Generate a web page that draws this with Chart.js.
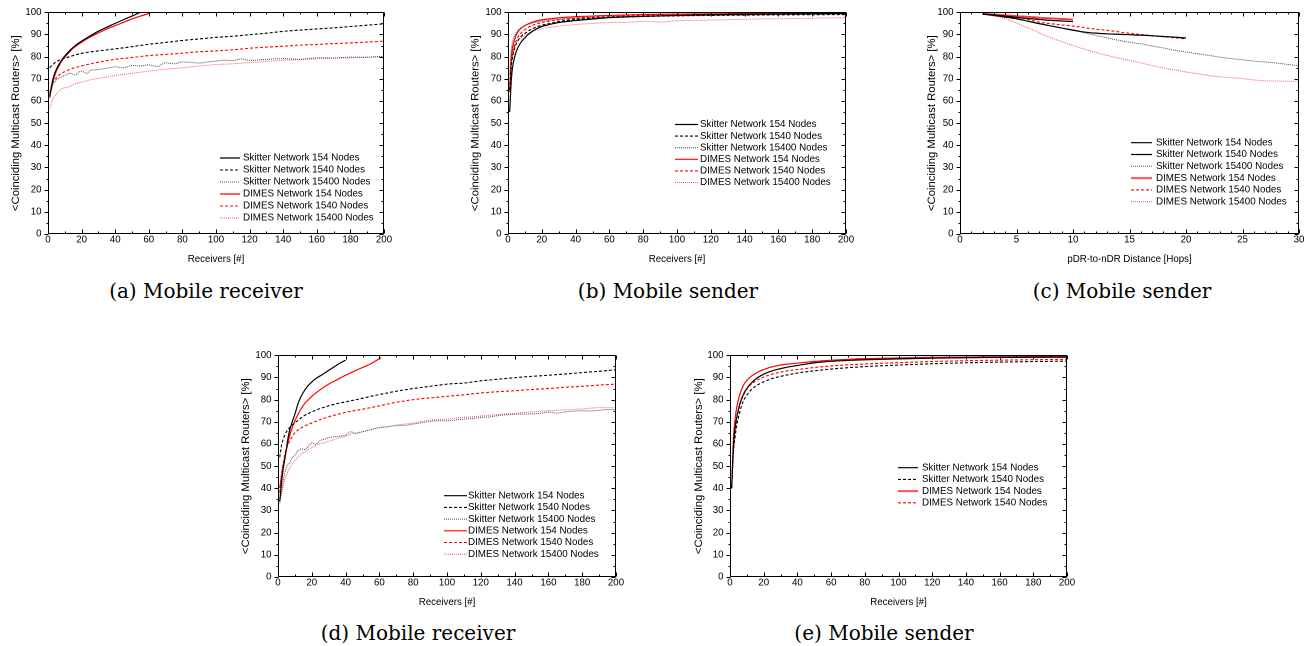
<!DOCTYPE html>
<html><head><meta charset="utf-8">
<script src="https://cdn.jsdelivr.net/npm/chart.js@4.4.0/dist/chart.umd.min.js"></script>
<style>
html,body{margin:0;padding:0;background:#fff;width:1314px;height:646px;overflow:hidden;position:relative}
canvas{position:absolute}
.cap{position:absolute;font-family:'DejaVu Serif',serif;font-size:20px;color:#000;white-space:nowrap;transform:translateX(-50%);line-height:20px}
</style></head><body>
<canvas id="ca" width="398" height="270" style="left:0px;top:0px"></canvas>
<canvas id="cb" width="400" height="270" style="left:460px;top:0px"></canvas>
<canvas id="cc" width="401" height="270" style="left:912px;top:0px"></canvas>
<canvas id="cd" width="400" height="270" style="left:230px;top:343px"></canvas>
<canvas id="ce" width="399" height="270" style="left:682px;top:343px"></canvas>
<div class="cap" style="left:206px;top:281px">(a) Mobile receiver</div>
<div class="cap" style="left:668px;top:281px">(b) Mobile sender</div>
<div class="cap" style="left:1122px;top:281px">(c) Mobile sender</div>
<div class="cap" style="left:418px;top:623px">(d) Mobile receiver</div>
<div class="cap" style="left:884px;top:623px">(e) Mobile sender</div>
<script>
// ---------- labels ----------
const seriesLabels = ['Skitter Network 154 Nodes','Skitter Network 1540 Nodes','Skitter Network 15400 Nodes',
                      'DIMES Network 154 Nodes','DIMES Network 1540 Nodes','DIMES Network 15400 Nodes'];
const yTitle = '<Coinciding Multicast Routers> [%]';
const xTitleRecv = 'Receivers [#]';
const xTitleHops = 'pDR-to-nDR Distance [Hops]';
const captions = ['(a) Mobile receiver','(b) Mobile sender','(c) Mobile sender','(d) Mobile receiver','(e) Mobile sender'];

// ---------- (a) Mobile receiver ----------
const a_sk154_x = [1,2,3,4,5,6,8,10,12,15,18,20,25,30,35,40,45,50,55];
const a_sk154_y = [62,66.5,70,72.5,74.3,75.8,78.3,80.3,82,84.2,86,87,89.3,91.5,93.3,95,96.7,98.3,100];
const a_sk1540_x = [1,3,5,10,15,20,30,40,50,60,70,80,90,100,110,120,130,140,150,160,170,180,190,200];
const a_sk1540_y = [75,76.5,77.8,79.3,80.5,81.5,82.6,83.5,84.5,85.6,86.4,87.3,88,88.7,89.2,89.9,90.6,91.4,92,92.5,93,93.6,94.2,94.8];
const a_sk15400_x = [1,2,3,5,7,10,13,16,20,23,26,30,35,40,45,50,55,60,65,70,75,80,85,90,95,100,105,110,115,120,130,140,150,160,170,180,190,200];
const a_sk15400_y = [62,65,67.5,69.5,70.5,71.5,72.5,71.8,73.5,72.5,74,74.2,74.8,75.4,75,76,75.8,76.3,75.6,77.2,76.8,77.6,77.4,77.1,77.6,78,78.4,78.2,79,78.3,78.8,79.1,78.8,79.5,79.4,79.8,79.7,80.2];
const a_di154_x = [1,2,3,4,5,6,8,10,12,15,18,20,25,30,35,40,45,50,55,60,61];
const a_di154_y = [61.5,65.5,69,71.5,73.5,75,77.8,79.8,81.5,83.8,85.5,86.5,88.8,90.7,92.5,94,95.5,97,98.3,99.5,100];
const a_di1540_x = [1,2,3,5,8,10,15,20,30,40,50,60,70,80,90,100,110,120,130,140,150,160,170,180,190,200];
const a_di1540_y = [63.5,66.5,68.5,70.5,72.5,73.2,74.8,75.8,77.5,78.8,79.6,80.5,81,81.6,82.2,82.6,83.1,83.8,84.3,84.7,85.2,85.5,85.9,86.2,86.6,87];
const a_di15400_x = [1,2,3,5,7,10,13,16,20,25,30,35,40,50,60,70,80,90,100,110,120,130,140,150,160,170,180,190,200];
const a_di15400_y = [56.5,59,61,63,64.8,66,66.5,67.8,68.5,69.5,70.2,70.8,71.5,72.5,73.5,74.3,75,75.8,76.4,76.8,77.3,77.8,78.3,78.7,79,79.3,79.5,79.8,80.2];

// ---------- (b) Mobile sender ----------
const b_sk154_x = [1,2,3,4,5,6,8,10,12,14,16,18,20,25,30,40,50,60,80,100,120,150,200];
const b_sk154_y = [55,70,76.5,80,82.5,84.3,86.8,88.5,90,91.2,92.2,93,93.6,94.6,95.4,96.3,97,97.6,98.2,98.6,98.9,99.2,99.5];
const b_sk1540_x = [1,2,3,4,5,7,10,15,20,25,30,40,50,60,80,100,150,200];
const b_sk1540_y = [65,76,81,84,86,88.5,90.5,92.8,94.2,95,95.8,96.8,97.3,97.7,98.1,98.4,98.8,99];
const b_sk15400_x = [1,2,3,4,5,7,10,15,20,30,40,60,100,150,200];
const b_sk15400_y = [72,83,87.5,89.5,91,92.6,94,95.3,96,96.8,97.3,97.9,98.5,98.9,99.2];
const b_di154_x = [1,2,3,4,5,7,10,15,20,30,40,60,80,100,150,200];
const b_di154_y = [65,80,85,88,90,92.3,94,95.7,96.6,97.5,98,98.6,99,99.2,99.5,99.8];
const b_di1540_x = [1,2,3,4,5,7,10,15,20,30,40,60,80,100,150,200];
const b_di1540_y = [64,77,82.5,85.5,87.5,90,92.2,94.3,95.4,96.6,97.4,98.1,98.6,98.9,99.2,99.5];
const b_di15400_x = [1,2,3,4,5,7,10,15,20,30,40,50,60,70,80,90,100,120,140,160,180,200];
const b_di15400_y = [68,78,82,84.5,86,88.2,89.8,91.5,92.6,93.8,94.5,95,95.4,95.5,95.9,95.6,96.2,96.5,96.9,97.1,97.3,97.6];

// ---------- (c) Mobile sender, distance ----------
const c_sk154_x = [2,3,4,5,6,7,8,9,10];
const c_sk154_y = [99.2,98.8,98.3,97.7,97.2,96.8,96.4,96.1,95.8];
const c_sk1540_x = [2,3,4,5,6,7,8,9,10,11,12,13,14,15,16,17,18,19,20];
const c_sk1540_y = [99.2,98.6,97.9,97.1,96.0,94.9,93.9,92.9,91.9,91.1,90.6,90.3,90.1,89.9,89.7,89.4,89.1,88.8,88.4];
const c_sk15400_x = [2,3,4,5,6,7,8,9,10,11,12,13,14,15,16,17,18,19,20,21,22,23,24,25,26,27,28,29,30];
const c_sk15400_y = [99.2,98.5,97.8,97.1,96.0,94.9,93.9,93.0,92.2,90.8,89.6,88.5,87.4,86.5,85.8,84.8,83.9,82.9,82.1,81.3,80.6,79.8,79.1,78.6,78.0,77.6,77.1,76.5,75.8];
const c_di154_x = [2,3,4,5,6,7,8,9,10];
const c_di154_y = [99.3,99.0,98.7,98.3,98.0,97.6,97.3,97.0,96.7];
const c_di1540_x = [2,3,4,5,6,7,8,9,10,11,12,13,14,15,16,17,18,19,20];
const c_di1540_y = [99.3,98.8,98.4,97.9,96.8,95.6,94.9,94.3,93.8,93.1,92.4,91.9,91.2,90.5,90.0,89.5,89.0,88.5,88.0];
const c_di15400_x = [2,3,4,5,6,7,8,9,10,11,12,13,14,15,16,17,18,19,20,21,22,23,24,25,26,27,28,29,30];
const c_di15400_y = [99.3,98.3,97.1,95.2,93.0,90.8,88.6,86.8,85.0,83.4,81.9,80.6,79.4,78.3,77.2,76.0,74.9,74.0,73.1,72.3,71.5,70.9,70.5,70.1,69.5,69.1,69.0,68.9,68.9];

// ---------- (d) Mobile receiver ----------
const d_sk154_x = [1,2,3,4,5,6,7,8,10,12,14,16,18,20,22,24,26,28,30,32,34,36,38,40];
const d_sk154_y = [34,42,48.5,53,58,63,66.5,69,73.5,78.5,82,84.5,86.5,88,89.3,90.3,91.2,92.2,93.2,94.2,95.2,96.2,97,97.8];
const d_sk1540_x = [1,2,3,4,5,7,10,15,20,25,30,35,40,45,50,55,60,70,80,90,100,110,120,130,140,150,160,170,180,190,200];
const d_sk1540_y = [54,59,62,64,65.5,67.5,69.5,72.5,74.5,76,77.2,78.2,79,79.8,80.6,81.5,82.3,83.8,85,86,87,87.5,88.5,89.2,89.9,90.5,91,91.6,92.2,92.8,93.5];
const d_sk15400_x = [1,2,3,4,5,6,7,8,10,12,14,16,18,20,22,25,28,30,35,40,43,46,50,55,60,65,70,75,80,85,90,95,100,105,110,115,120,125,130,135,140,145,150,155,160,165,170,175,180,185,190,195,200];
const d_sk15400_y = [35,38,43,47,49.5,51,51.5,53.5,55,57,57.8,57.5,59,60.5,59.8,61.5,62.3,62.8,63.4,64,65.5,64.8,65.5,66.5,67.3,67.8,68.3,68.4,69,69.6,70.2,70.5,70.5,70.8,71.2,71.5,72,72.2,72.8,73.2,73.4,73.5,73.6,73.8,74.4,73.9,74.5,74.8,75,74.9,75.2,75.5,75.5];
const d_di154_x = [1,2,3,4,5,6,7,8,10,12,15,18,20,25,30,35,40,45,50,55,60,61];
const d_di154_y = [40,45,50,54,57.5,61,64,66.5,70.5,73.5,77.5,80,81.5,84.5,87,89,91,92.8,94.5,96.2,98.5,99];
const d_di1540_x = [1,2,3,4,5,7,10,15,20,25,30,35,40,50,60,70,80,90,100,110,120,130,140,150,160,170,180,190,200];
const d_di1540_y = [38,46,51,55,58,61.5,65,67.8,69.5,71,72.3,73.3,74.3,75.7,77.2,78.8,80,80.8,81.5,82.2,83,83.6,84,84.6,85,85.6,86,86.6,87];
const d_di15400_x = [1,2,3,4,5,6,8,10,12,15,18,20,25,30,35,40,45,50,55,60,65,70,75,80,85,90,95,100,110,120,130,140,150,160,170,180,190,200];
const d_di15400_y = [33,37,41,44,46,48,50.5,52.5,54.3,56,57.5,58.5,60,61.2,62.5,63.5,64.8,65.5,66.5,67.5,67.8,68.5,69,69.5,70.2,70.8,71,71.3,72,72.6,73.3,73.8,74.5,75,75.4,75.8,76.4,76.3];

// ---------- (e) Mobile sender ----------
const e_sk154_x = [1,2,3,4,5,6,8,10,12,14,16,18,20,25,30,35,40,50,60,70,80,100,120,150,200];
const e_sk154_y = [40,58,67,72,75.5,78.5,82.5,85,87,88.5,89.7,90.7,91.5,93,94,94.8,95.4,96.6,97.3,97.7,98,98.4,98.7,99,99.2];
const e_sk1540_x = [1,2,3,4,5,6,8,10,12,14,16,18,20,25,30,35,40,50,60,70,80,100,120,150,200];
const e_sk1540_y = [40,56,63,68.5,72,75,79.5,82,84,85.4,86.5,87.3,88,89.5,90.5,91.3,92,93,93.8,94.4,94.9,95.6,96.2,96.8,97.4];
const e_di154_x = [1,2,3,4,5,6,8,10,12,14,16,18,20,25,30,35,40,50,60,70,80,100,120,150,200];
const e_di154_y = [40,62,71,76.5,80,82.8,86.5,88.7,90.2,91.3,92.2,93,93.6,94.8,95.6,96.1,96.5,97.2,97.8,98.2,98.5,98.8,99.1,99.3,99.5];
const e_di1540_x = [1,2,3,4,5,6,8,10,12,14,16,18,20,25,30,35,40,50,60,70,80,100,120,150,200];
const e_di1540_y = [40,58,66,71.5,75,78,82,84.8,86.5,87.8,88.8,89.5,90.2,91.5,92.4,93.1,93.6,94.5,95.2,95.7,96.1,96.7,97.2,97.7,98.2];

// ---------- styles ----------
const STY = {
  sk154:   {c:'#000000', w:1.2, d:[]},
  sk1540:  {c:'#000000', w:1.1, d:[3,2]},
  sk15400: {c:'#4a4a4a', w:1.0, d:[1,1]},
  di154:   {c:'#ff0000', w:1.2, d:[]},
  di1540:  {c:'#ff0000', w:1.1, d:[3,2]},
  di15400: {c:'#ff5a5a', w:1.0, d:[1,1]}
};
const FONT = '"Liberation Sans", Arial, sans-serif';
Chart.defaults.font.family = FONT;
Chart.defaults.color = '#000';

function pts(xs, ys){ return xs.map((v,i)=>({x:v, y:ys[i]})); }
function ds(label, key, xs, ys, extra){
  const s = STY[key];
  return Object.assign({label, data: pts(xs,ys), borderColor:s.c, borderWidth:s.w, borderDash:s.d,
    pointRadius:0, fill:false, cubicInterpolationMode:'monotone', legendColor:s.c, legendWidth:s.w}, extra||{});
}

const framePlugin = {
  id:'framePlugin',
  afterDraw(chart, args, o){
    const {ctx, chartArea:a, scales} = chart;
    const xs = scales.x, ys = scales.y;
    ctx.save();
    ctx.strokeStyle = '#000'; ctx.lineWidth = 1; ctx.setLineDash([]);
    const L = Math.round(a.left)+0.5, R = Math.round(a.right)-0.5, T = Math.round(a.top)+0.5, B = Math.round(a.bottom)-0.5;
    ctx.strokeRect(L, T, R-L, B-T);
    ctx.beginPath();
    const isMaj = (v, m) => Math.abs(v/m - Math.round(v/m)) < 1e-6;
    for (let v = xs.min; v <= xs.max + 1e-9; v += o.xMinor){
      const px = Math.round(xs.getPixelForValue(v)) + 0.5;
      const len = isMaj(v, o.xMajor) ? 4 : 2;
      ctx.moveTo(px, B); ctx.lineTo(px, B - len);
      ctx.moveTo(px, T); ctx.lineTo(px, T + len);
    }
    for (let v = ys.min; v <= ys.max + 1e-9; v += o.yMinor){
      const py = Math.round(ys.getPixelForValue(v)) + 0.5;
      const len = isMaj(v, o.yMajor) ? 4 : 2;
      ctx.moveTo(L, py); ctx.lineTo(L - len, py);
      ctx.moveTo(R, py); ctx.lineTo(R - len, py);
    }
    ctx.stroke();
    ctx.restore();
  }
};

const legendPlugin = {
  id:'insideLegend',
  afterDraw(chart, args, o){
    const ctx = chart.ctx;
    chart.data.datasets.forEach((d, i) => {
      const y = o.y + i*o.dy;
      ctx.save();
      ctx.strokeStyle = d.legendColor; ctx.lineWidth = d.legendWidth;
      ctx.setLineDash(d.borderDash || []);
      ctx.beginPath(); ctx.moveTo(o.x0, y); ctx.lineTo(o.x1, y); ctx.stroke();
      ctx.setLineDash([]);
      ctx.fillStyle = '#000'; ctx.font = '9.8px ' + FONT;
      ctx.textBaseline = 'middle'; ctx.textAlign = 'left';
      ctx.fillText(d.label, o.tx, y);
      ctx.restore();
    });
  }
};

function makeChart(id, datasets, xcfg, titlePad, legend){
  return new Chart(document.getElementById(id), {
    type:'line',
    data:{datasets},
    options:{
      responsive:false, animation:false, devicePixelRatio:2,
      layout:{padding:{left:0, top:12, right:14, bottom:0}},
      plugins:{legend:{display:false}, tooltip:{enabled:false},
        framePlugin:{xMinor:xcfg.minor, xMajor:xcfg.step, yMinor:5, yMajor:10},
        insideLegend:legend},
      scales:{
        x:{type:'linear', min:xcfg.min, max:xcfg.max,
           ticks:{stepSize:xcfg.step, padding:0, font:{size:9.7}, maxRotation:0, autoSkip:false},
           grid:{display:false, drawTicks:false}, border:{display:false},
           title:{display:true, text:xcfg.title, font:{size:9.7}, padding:{top:0,bottom:5}},
           afterFit(s){ s.height = 36; }},
        y:{type:'linear', min:0, max:100,
           ticks:{stepSize:10, padding:6.5, font:{size:9.7}, autoSkip:false},
           grid:{display:false, drawTicks:false}, border:{display:false},
           title:{display:true, text:yTitle, font:{size:11.3}, padding:{top:titlePad,bottom:0}},
           afterFit(s){ s.width = 48; }}
      }
    },
    plugins:[framePlugin, legendPlugin]
  });
}

const recvAxis = {min:0, max:200, step:20, minor:10, title:xTitleRecv};
const hopAxis = {min:0, max:30, step:5, minor:1, title:xTitleHops};

makeChart('ca', [
  ds(seriesLabels[0],'sk154', a_sk154_x, a_sk154_y),
  ds(seriesLabels[1],'sk1540', a_sk1540_x, a_sk1540_y),
  ds(seriesLabels[2],'sk15400', a_sk15400_x, a_sk15400_y),
  ds(seriesLabels[3],'di154', a_di154_x, a_di154_y),
  ds(seriesLabels[4],'di1540', a_di1540_x, a_di1540_y),
  ds(seriesLabels[5],'di15400', a_di15400_x, a_di15400_y)
], recvAxis, 9, {x0:220, x1:240, tx:243, y:158, dy:12});

makeChart('cb', [
  ds(seriesLabels[0],'sk154', b_sk154_x, b_sk154_y),
  ds(seriesLabels[1],'sk1540', b_sk1540_x, b_sk1540_y),
  ds(seriesLabels[2],'sk15400', b_sk15400_x, b_sk15400_y),
  ds(seriesLabels[3],'di154', b_di154_x, b_di154_y),
  ds(seriesLabels[4],'di1540', b_di1540_x, b_di1540_y),
  ds(seriesLabels[5],'di15400', b_di15400_x, b_di15400_y)
], recvAxis, 8.5, {x0:215, x1:238, tx:240, y:124.5, dy:11.6});

makeChart('cc', [
  ds(seriesLabels[0],'sk154', c_sk154_x, c_sk154_y),
  ds(seriesLabels[1],'sk154', c_sk1540_x, c_sk1540_y),
  ds(seriesLabels[2],'sk15400', c_sk15400_x, c_sk15400_y),
  ds(seriesLabels[3],'di154', c_di154_x, c_di154_y, {borderColor:'#ff3030', borderWidth:1.8, legendColor:'#ff6060', legendWidth:2.2}),
  ds(seriesLabels[4],'di1540', c_di1540_x, c_di1540_y),
  ds(seriesLabels[5],'di15400', c_di15400_x, c_di15400_y)
], hopAxis, 13, {x0:219, x1:240, tx:244, y:142.7, dy:11.8});

makeChart('cd', [
  ds(seriesLabels[0],'sk154', d_sk154_x, d_sk154_y),
  ds(seriesLabels[1],'sk1540', d_sk1540_x, d_sk1540_y),
  ds(seriesLabels[2],'sk15400', d_sk15400_x, d_sk15400_y),
  ds(seriesLabels[3],'di154', d_di154_x, d_di154_y),
  ds(seriesLabels[4],'di1540', d_di1540_x, d_di1540_y),
  ds(seriesLabels[5],'di15400', d_di15400_x, d_di15400_y)
], recvAxis, 9, {x0:214, x1:237, tx:238, y:152.7, dy:11.7});

makeChart('ce', [
  ds(seriesLabels[0],'sk154', e_sk154_x, e_sk154_y),
  ds(seriesLabels[1],'sk1540', e_sk1540_x, e_sk1540_y),
  ds(seriesLabels[3],'di154', e_di154_x, e_di154_y, {legendColor:'#ff5050', legendWidth:2}),
  ds(seriesLabels[4],'di1540', e_di1540_x, e_di1540_y)
], recvAxis, 10, {x0:216, x1:236, tx:240, y:124.7, dy:11.7});
</script>
</body></html>
